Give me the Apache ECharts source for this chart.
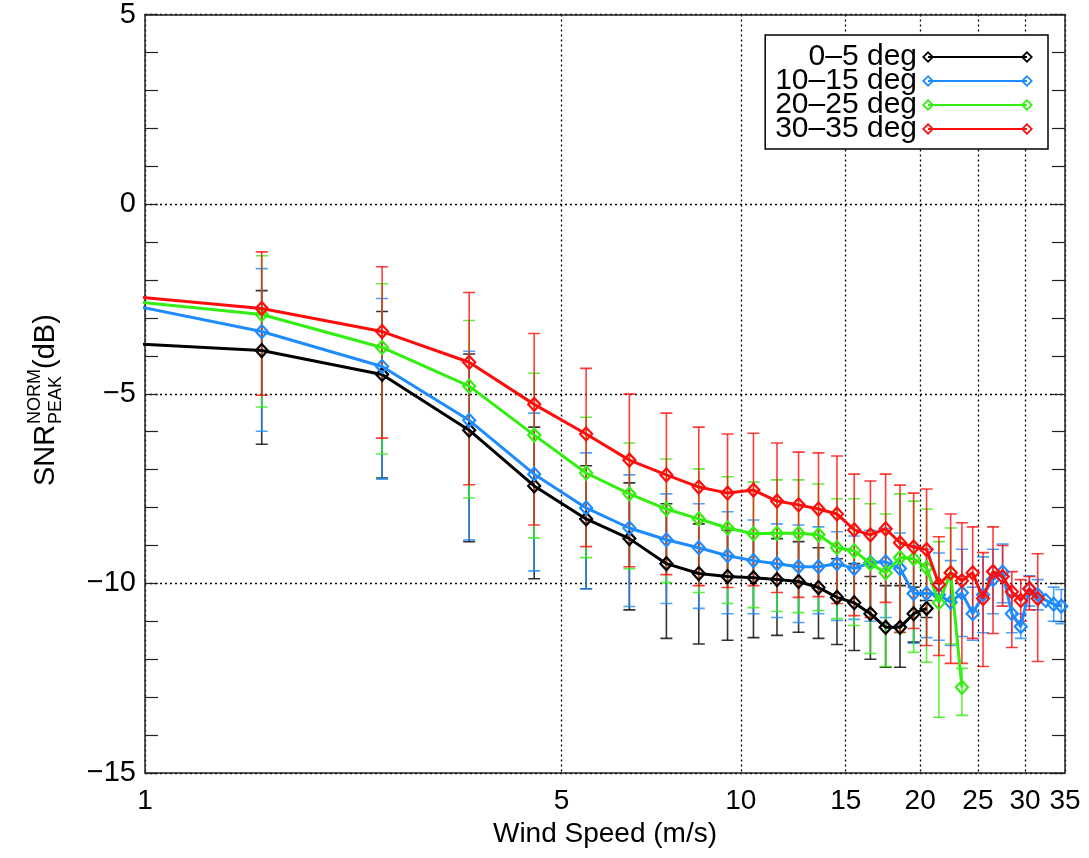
<!DOCTYPE html>
<html><head><meta charset="utf-8">
<script src="https://cdn.jsdelivr.net/npm/echarts@6/dist/echarts.min.js"></script>
<style>html,body{margin:0;padding:0;background:#fff}#c{width:1089px;height:858px}</style>
</head><body><div id="c"></div>
<script>
const windSpeed = [0.7, 1.57, 2.5, 3.5, 4.5, 5.5, 6.5, 7.5, 8.5, 9.5, 10.5, 11.5, 12.5, 13.5, 14.5, 15.5, 16.5, 17.5, 18.5, 19.5, 20.5, 21.5, 22.5, 23.5, 24.5, 25.5, 26.5, 27.5, 28.5, 29.5, 30.5, 31.5, 32.5, 33.5, 34.5];
const seriesNames = ['0–5 deg', '10–15 deg', '20–25 deg', '30–35 deg'];
const seriesColors = ['#000000', '#1e8cff', '#33ee11', '#ff0d0d'];

const blackMean = [-3.57, -3.86, -4.49, -5.96, -7.43, -8.30, -8.82, -9.48, -9.74, -9.82, -9.85, -9.90, -9.95, -10.11, -10.37, -10.51, -10.80, -11.16, -11.16, -10.80, -10.66];
const blackLow  = [null, -6.33, -7.22, -8.90, -9.88, -10.14, -10.70, -11.45, -11.60, -11.50, -11.43, -11.37, -11.29, -11.45, -11.61, -11.77, -12.00, -12.21, -12.21, -11.55, -10.90];
const blackHigh = [null, -2.28, -2.83, -3.95, -5.88, -6.90, -7.35, -7.90, -8.43, -8.60, -8.70, -8.82, -8.90, -9.06, -9.35, -9.48, -9.82, -10.06, -10.06, -10.10, -10.45];

const blueMean = [-2.24, -3.36, -4.28, -5.70, -7.12, -8.01, -8.54, -8.85, -9.06, -9.27, -9.40, -9.48, -9.56, -9.56, -9.48, -9.61, -9.45, -9.43, -9.61, -10.27, -10.27, -10.30, -10.50, -10.25, -10.80, -10.30, -9.90, -9.70, -10.80, -11.14, -10.15, -10.30, -10.45, -10.55, -10.60];
const blueLow  = [null, -5.99, -7.25, -8.85, -9.67, -10.14, -10.61, -10.53, -10.66, -10.80, -10.80, -10.90, -11.03, -10.80, -10.98, -10.95, -11.00, -10.90, -11.10, -11.58, -11.43, -11.50, -11.64, -11.40, -11.50, -11.30, -10.80, -10.51, -11.30, -11.45, -10.60, -10.70, null, -11.00, -11.06];
const blueHigh = [null, -1.70, -2.49, -3.88, -5.51, -6.56, -7.14, -7.64, -7.90, -8.11, -8.33, -8.43, -8.46, -8.51, -8.64, -8.75, -8.60, -8.55, -8.67, -9.00, -9.10, -9.20, -9.40, -9.10, -10.10, -9.30, -9.10, -8.96, -10.30, -10.80, -9.80, -9.90, null, -10.10, -10.16];

const greenMean = [-2.35, -2.91, -3.78, -4.80, -6.09, -7.09, -7.64, -8.04, -8.30, -8.54, -8.69, -8.68, -8.68, -8.72, -9.06, -9.14, -9.48, -9.72, -9.32, -9.35, -9.59, -10.51, -9.72, -12.74];
const greenLow  = [null, -5.35, -6.59, -7.75, -8.80, -9.32, -9.61, -9.98, -10.24, -10.53, -10.64, -10.74, -10.77, -10.72, -10.93, -11.11, -11.85, -12.19, -11.30, -11.82, -12.08, -13.53, -11.60, -13.48];
const greenHigh = [null, -1.36, -2.10, -3.07, -4.46, -5.62, -6.30, -6.72, -6.98, -7.19, -7.33, -7.27, -7.27, -7.38, -7.77, -7.77, -7.90, -8.17, -7.64, -7.83, -8.04, -8.90, -8.54, -12.24];

const redMean = [-2.24, -2.75, -3.36, -4.17, -5.28, -6.06, -6.75, -7.14, -7.46, -7.62, -7.54, -7.83, -7.93, -8.04, -8.17, -8.59, -8.72, -8.56, -8.93, -9.04, -9.11, -10.03, -9.72, -9.93, -9.72, -10.40, -9.69, -9.82, -10.22, -10.45, -10.14, -10.40];
const redLow  = [null, -5.04, -6.17, -7.40, -8.46, -9.03, -9.56, -9.77, -10.06, -10.11, -10.06, -10.24, -10.37, -10.35, -10.53, -10.85, -10.90, -10.50, -11.29, -11.19, -11.64, -11.90, -12.11, -12.11, -11.45, -12.19, -11.32, -10.60, -11.69, -11.00, -10.70, -12.06];
const redHigh = [null, -1.26, -1.65, -2.33, -3.41, -4.33, -5.01, -5.51, -5.88, -6.06, -6.04, -6.30, -6.54, -6.56, -6.64, -7.12, -7.30, -7.12, -7.41, -7.62, -7.51, -8.77, -8.17, -8.40, -8.51, -9.19, -8.51, -9.00, -9.69, -9.90, -9.82, -9.22];

const xTickValues = [1, 5, 10, 15, 20, 25, 30, 35];
const yMin = -15, yMax = 5, yStep = 5;

const means = [blackMean, blueMean, greenMean, redMean];
const lows = [blackLow, blueLow, greenLow, redLow];
const highs = [blackHigh, blueHigh, greenHigh, redHigh];

const FONT = 'Liberation Sans, Arial, Helvetica, sans-serif';

function lineData(m) {
  const out = [];
  for (let i = 0; i < m.length; i++) if (m[i] != null) out.push([windSpeed[i], m[i]]);
  return out;
}
function errData(lo, hi) {
  const out = [];
  for (let i = 0; i < lo.length; i++) if (lo[i] != null && hi[i] != null) out.push([windSpeed[i], lo[i], hi[i]]);
  return out;
}
function errRender(color) {
  return function (params, api) {
    const x = api.value(0), lo = api.value(1), hi = api.value(2);
    const a = api.coord([x, lo]), b = api.coord([x, hi]);
    const w = 6;
    const st = { stroke: color, lineWidth: 1.6, opacity: 0.8 };
    return { type: 'group', children: [
      { type: 'line', shape: { x1: a[0], y1: a[1], x2: b[0], y2: b[1] }, style: st },
      { type: 'line', shape: { x1: a[0] - w, y1: a[1], x2: a[0] + w, y2: a[1] }, style: st },
      { type: 'line', shape: { x1: b[0] - w, y1: b[1], x2: b[0] + w, y2: b[1] }, style: st }
    ]};
  };
}

const legendIcon = 'path://M0.5 6.5L6.5 0.5L12.5 6.5L6.5 12.5Z M3 6.5L6.5 10L10 6.5L6.5 3Z M6.5 5.4L104.5 5.4L104.5 7.6L6.5 7.6Z M98.5 6.5L104.5 0.5L110.5 6.5L104.5 12.5Z M101 6.5L104.5 10L108 6.5L104.5 3Z';

const series = [];
for (let s = 0; s < 4; s++) {
  series.push({
    name: 'err' + s, type: 'custom', clip: true, z: 1 + s * 0.01,
    renderItem: errRender(seriesColors[s]),
    encode: { x: 0, y: [1, 2] },
    data: errData(lows[s], highs[s]),
    silent: true
  });
}
for (let s = 0; s < 4; s++) {
  series.push({
    name: seriesNames[s], type: 'line', clip: true, z: 3 + s * 0.01,
    data: lineData(means[s]),
    symbol: 'diamond', symbolSize: [12, 13],
    lineStyle: { color: seriesColors[s], width: 3 },
    itemStyle: { color: 'rgba(255,255,255,0)', borderColor: seriesColors[s], borderWidth: 2.2 },
    emphasis: { disabled: true }
  });
}

const chart = echarts.init(document.getElementById('c'), null, { renderer: 'canvas' });
chart.setOption({
  animation: false,
  backgroundColor: '#fff',
  grid: { left: 145, right: 24, top: 12, bottom: 85 },
  legend: {
    orient: 'vertical', align: 'right', right: 41, top: 35,
    padding: [7, 15, 5, 10], itemGap: -6,
    itemWidth: 111, itemHeight: 13,
    backgroundColor: '#fff', borderColor: '#000', borderWidth: 1.5, borderRadius: 0,
    icon: legendIcon,
    itemStyle: { borderWidth: 0 },
    textStyle: { fontFamily: FONT, fontSize: 30, color: '#000' },
    data: seriesNames.map((n, i) => ({ name: n, itemStyle: { color: seriesColors[i], borderWidth: 0 } }))
  },
  xAxis: [{
    type: 'log', min: 1, max: 35, logBase: 10,
    name: 'Wind Speed (m/s)', nameLocation: 'middle', nameGap: 44,
    nameTextStyle: { fontFamily: FONT, fontSize: 28, color: '#000' },
    axisLine: { show: true, onZero: false, lineStyle: { color: '#222', width: 1.5 } },
    axisTick: { show: false, customValues: xTickValues },
    axisLabel: { customValues: xTickValues, fontFamily: FONT, fontSize: 28, color: '#000', margin: 14, formatter: v => String(Math.round(v)) },
    splitLine: { show: true, lineStyle: { color: '#000', width: 1.3, type: [2, 3] } },
    minorTick: { show: false }, minorSplitLine: { show: false }
  }, {
    type: 'log', min: 1, max: 35, position: 'top',
    axisLine: { show: true, onZero: false, lineStyle: { color: '#222', width: 1.5 } },
    axisTick: { show: false }, axisLabel: { show: false }, splitLine: { show: false }
  }],
  yAxis: [{
    type: 'value', min: yMin, max: yMax, interval: yStep,
    axisLine: { show: true, onZero: false, lineStyle: { color: '#222', width: 1.5 } },
    axisTick: { show: true, inside: true, length: 13, lineStyle: { color: '#222', width: 1.2 } },
    minorTick: { show: true, splitNumber: 5, length: 13, lineStyle: { color: '#222', width: 1.2 } },
    axisLabel: { fontFamily: FONT, fontSize: 29, color: '#000', margin: 9, formatter: v => (v < 0 ? '−' + Math.abs(v) : String(v)) },
    splitLine: { show: true, lineStyle: { color: '#000', width: 1.3, type: [2, 3] } }
  }, {
    type: 'value', min: yMin, max: yMax, interval: yStep, position: 'right',
    axisLine: { show: true, onZero: false, lineStyle: { color: '#222', width: 1.5 } },
    axisTick: { show: true, inside: true, length: 13, lineStyle: { color: '#222', width: 1.2 } },
    minorTick: { show: true, splitNumber: 5, length: 13, lineStyle: { color: '#222', width: 1.2 } },
    axisLabel: { show: false }, splitLine: { show: false }
  }],
  graphic: [{
    type: 'group', x: 46, y: 486, rotation: Math.PI / 2,
    children: [
      { type: 'text', x: 0, y: 0, style: { text: 'SNR', fontFamily: FONT, fontSize: 29, fill: '#000', verticalAlign: 'middle', align: 'left' } },
      { type: 'text', x: 62, y: -11, style: { text: 'NORM', fontFamily: FONT, fontSize: 18, fill: '#000', verticalAlign: 'middle', align: 'left' } },
      { type: 'text', x: 62, y: 10, style: { text: 'PEAK', fontFamily: FONT, fontSize: 18, fill: '#000', verticalAlign: 'middle', align: 'left' } },
      { type: 'text', x: 117, y: 0, style: { text: '(dB)', fontFamily: FONT, fontSize: 29, fill: '#000', verticalAlign: 'middle', align: 'left' } }
    ]
  }],
  series: series
});
</script>
</body></html>
